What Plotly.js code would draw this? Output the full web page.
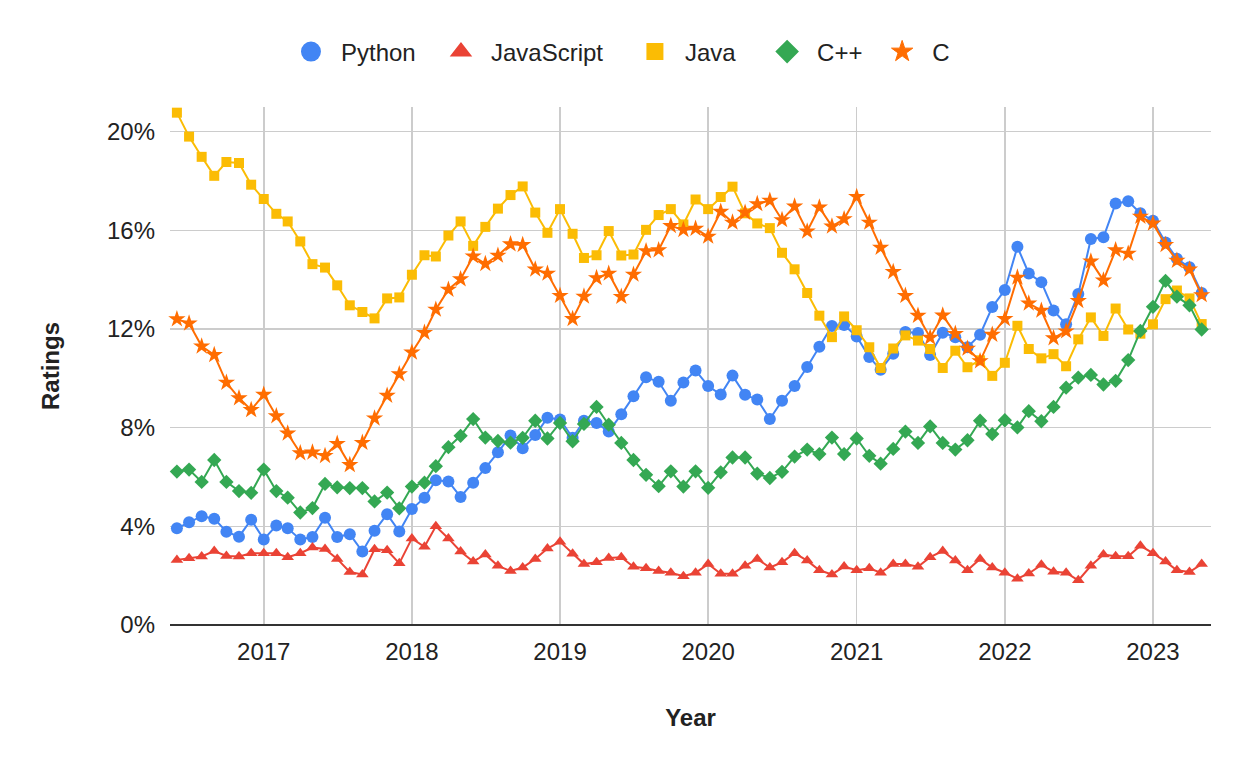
<!DOCTYPE html>
<html>
<head>
<meta charset="utf-8">
<script src="https://cdn.plot.ly/plotly-3.0.1.min.js"></script>
<style>
  html, body { margin: 0; padding: 0; background: #fff; }
  #chart { width: 1250px; height: 773px; }
</style>
</head>
<body>
<div id="chart"></div>
<script>
// Monthly observations, June 2016 – May 2023
const months = [
  '2016-06','2016-07','2016-08','2016-09','2016-10','2016-11','2016-12',
  '2017-01','2017-02','2017-03','2017-04','2017-05','2017-06','2017-07','2017-08','2017-09','2017-10','2017-11','2017-12',
  '2018-01','2018-02','2018-03','2018-04','2018-05','2018-06','2018-07','2018-08','2018-09','2018-10','2018-11','2018-12',
  '2019-01','2019-02','2019-03','2019-04','2019-05','2019-06','2019-07','2019-08','2019-09','2019-10','2019-11','2019-12',
  '2020-01','2020-02','2020-03','2020-04','2020-05','2020-06','2020-07','2020-08','2020-09','2020-10','2020-11','2020-12',
  '2021-01','2021-02','2021-03','2021-04','2021-05','2021-06','2021-07','2021-08','2021-09','2021-10','2021-11','2021-12',
  '2022-01','2022-02','2022-03','2022-04','2022-05','2022-06','2022-07','2022-08','2022-09','2022-10','2022-11','2022-12',
  '2023-01','2023-02','2023-03','2023-04','2023-05'
];

const seriesNames = ['Python', 'JavaScript', 'Java', 'C++', 'C'];

const python = [
  3.92,4.17,4.41,4.31,3.78,3.58,4.27,3.47,4.03,3.92,3.47,3.57,4.35,3.57,3.68,2.98,3.82,4.49,3.79,
  4.70,5.16,5.87,5.82,5.19,5.77,6.36,7.00,7.68,7.17,7.70,8.40,
  8.33,7.59,8.28,8.19,7.84,8.54,9.27,10.04,9.86,9.09,9.83,10.32,
  9.69,9.34,10.11,9.33,9.14,8.35,9.09,9.69,10.46,11.28,12.12,12.16,
  11.70,10.86,10.35,11.00,11.88,11.84,10.95,11.85,11.67,11.26,11.77,12.89,
  13.58,15.33,14.25,13.90,12.75,12.19,13.42,15.65,15.72,17.09,17.18,16.69,
  16.39,15.51,14.85,14.50,13.46
];

const javascript = [
  2.64,2.71,2.78,3.00,2.80,2.78,2.91,2.91,2.91,2.75,2.91,3.14,3.08,2.68,2.15,2.05,3.07,3.03,2.50,
  3.51,3.17,4.00,3.51,2.98,2.57,2.86,2.40,2.19,2.33,2.68,3.10,
  3.38,2.89,2.47,2.54,2.72,2.75,2.36,2.30,2.19,2.12,1.98,2.12,
  2.47,2.08,2.08,2.40,2.68,2.33,2.54,2.91,2.61,2.22,2.05,2.37,
  2.22,2.30,2.12,2.47,2.47,2.36,2.75,3.00,2.61,2.22,2.68,2.33,
  2.12,1.88,2.09,2.44,2.16,2.12,1.81,2.40,2.86,2.79,2.79,3.21,
  2.91,2.57,2.22,2.15,2.47
];

const java = [
  20.77,19.80,18.98,18.21,18.77,18.73,17.85,17.27,16.67,16.36,15.55,14.63,14.49,13.77,12.96,12.69,12.43,13.24,13.28,
  14.20,14.99,14.94,15.79,16.36,15.37,16.14,16.88,17.43,17.78,16.72,15.90,
  16.86,15.86,14.88,14.99,15.97,14.98,15.02,16.02,16.62,16.86,16.24,17.25,
  16.86,17.35,17.77,16.69,16.28,16.09,15.09,14.42,13.46,12.54,11.67,12.51,
  11.95,11.26,10.42,11.21,11.74,11.53,11.19,10.42,11.12,10.45,10.73,10.10,
  10.63,12.13,11.19,10.81,10.98,10.49,11.58,12.47,11.72,12.83,11.98,11.81,
  12.19,13.21,13.56,13.24,12.20
];

const cpp = [
  6.22,6.30,5.80,6.69,5.80,5.43,5.36,6.30,5.43,5.16,4.56,4.74,5.72,5.58,5.55,5.55,5.01,5.37,4.73,
  5.61,5.77,6.44,7.21,7.67,8.35,7.60,7.46,7.39,7.59,8.28,7.56,
  8.19,7.45,8.15,8.84,8.12,7.38,6.69,6.09,5.63,6.23,5.61,6.23,
  5.56,6.19,6.79,6.79,6.14,5.96,6.21,6.83,7.11,6.93,7.60,6.93,
  7.56,6.86,6.54,7.14,7.84,7.38,8.05,7.38,7.11,7.49,8.28,7.74,
  8.30,8.01,8.67,8.26,8.84,9.62,10.03,10.14,9.75,9.90,10.74,11.92,
  12.90,13.95,13.31,12.96,11.98
];

const c = [
  12.40,12.23,11.30,10.95,9.83,9.20,8.72,9.34,8.47,7.77,6.97,7.00,6.86,7.35,6.49,7.39,8.38,9.30,10.17,
  11.05,11.85,12.79,13.60,14.02,14.95,14.64,14.98,15.44,15.41,14.42,14.25,
  13.35,12.41,13.32,14.07,14.25,13.31,14.21,15.16,15.20,16.18,16.02,16.07,
  15.75,16.76,16.32,16.72,17.07,17.21,16.42,16.97,15.96,16.93,16.16,16.46,
  17.36,16.32,15.30,14.32,13.35,12.54,11.65,12.55,11.81,11.21,10.70,11.77,
  12.41,14.09,13.04,12.75,11.63,11.91,13.14,14.74,13.97,15.20,15.06,16.56,
  16.28,15.41,14.77,14.42,13.38
];

const yTicks = [0, 4, 8, 12, 16, 20];
const yTickText = ['0%', '4%', '8%', '12%', '16%', '20%'];
const xTicks = ['2017-01-01','2018-01-01','2019-01-01','2020-01-01','2021-01-01','2022-01-01','2023-01-01'];
const xTickText = ['2017','2018','2019','2020','2021','2022','2023'];

const seriesValues = [python, javascript, java, cpp, c];
const colors = ['#4285F4', '#EA4335', '#FBBC04', '#34A853', '#FF6D01'];
const symbols = ['circle', 'triangle-up', 'square', 'diamond', 'star'];
const markerSizes = [12, 11, 10, 11, 13];
const legendSizes = [16, 16, 15, 16, 16];
const legendOutline = [4, 2, 2, 2, 1];
const legendIds = ['legend', 'legend2', 'legend3', 'legend4', 'legend5'];
const legendX = [0.1066, 0.2507, 0.4370, 0.5640, 0.6745];

const FONT = 'Liberation Sans, Arial, Helvetica, sans-serif';

const traces = [];
seriesValues.forEach((vals, i) => {
  traces.push({
    type: 'scatter', mode: 'lines+markers',
    name: seriesNames[i], x: months, y: vals,
    line: { color: colors[i], width: 2 },
    marker: { color: colors[i], symbol: symbols[i], size: markerSizes[i] },
    showlegend: false, cliponaxis: false
  });
});
// legend entries (marker-only, like the reference legend)
seriesNames.forEach((n, i) => {
  traces.push({
    type: 'scatter', mode: 'markers', name: n,
    x: [null], y: [null],
    marker: { color: colors[i], symbol: symbols[i], size: legendSizes[i],
              line: { color: colors[i], width: legendOutline[i] } },
    legend: legendIds[i], showlegend: true, hoverinfo: 'skip'
  });
});

const layout = {
  width: 1250, height: 773,
  paper_bgcolor: '#fff', plot_bgcolor: '#fff',
  font: { family: FONT, size: 24, color: '#222' },
  margin: { l: 170, r: 39, t: 107, b: 148 },
  xaxis: {
    type: 'date',
    range: ['2016-05-15', '2023-05-24'],
    tickvals: xTicks, ticktext: xTickText,
    showgrid: true, gridcolor: '#cccccc', gridwidth: 1.5,
    showline: false, zeroline: false, ticks: '',
    ticklabelstandoff: 10,
    tickfont: { size: 24, color: '#222' },
    title: { text: 'Year', font: { size: 24, color: '#222', weight: 'bold' }, standoff: 45 },
    automargin: false, fixedrange: true
  },
  yaxis: {
    range: [0, 21],
    tickvals: yTicks, ticktext: yTickText,
    showgrid: true, gridcolor: '#cccccc', gridwidth: 1.5,
    zeroline: true, zerolinecolor: '#333333', zerolinewidth: 2,
    showline: false, ticks: '',
    ticklabelstandoff: 14,
    tickfont: { size: 24, color: '#222' },
    title: { text: 'Ratings', font: { size: 24, color: '#222', weight: 'bold' }, standoff: 40 },
    automargin: false, fixedrange: true
  },
  showlegend: true
};
legendIds.forEach((id, i) => {
  layout[id] = {
    orientation: 'h', x: legendX[i], xanchor: 'left',
    y: 1.1062, yanchor: 'middle',
    itemwidth: 50, bgcolor: 'rgba(0,0,0,0)', borderwidth: 0,
    font: { family: FONT, size: 24, color: '#222' },
    itemclick: false, itemdoubleclick: false
  };
});

Plotly.newPlot('chart', traces, layout, { displayModeBar: false, staticPlot: true });
</script>
</body>
</html>
